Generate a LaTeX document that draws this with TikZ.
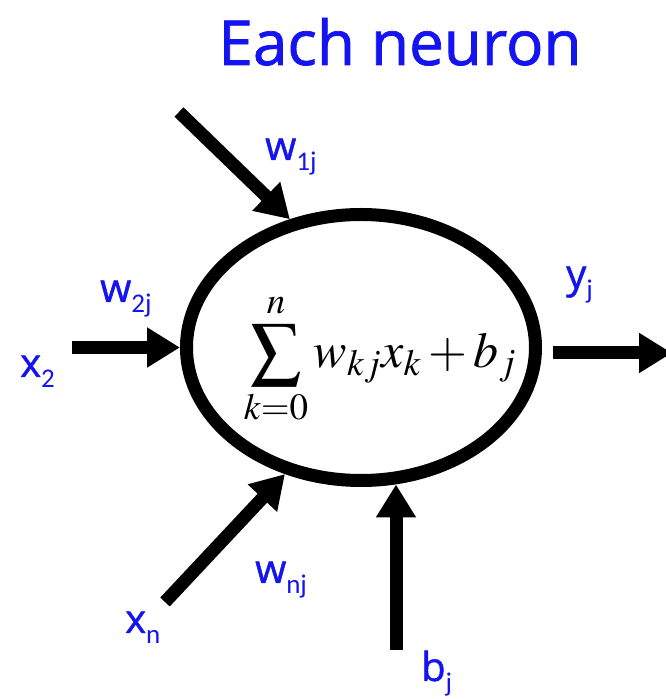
\documentclass[tikz,border=0pt]{standalone}
\usepackage{mathptmx}
\usepackage[no-math]{fontspec}
\usepackage{tikz}
\usetikzlibrary{arrows.meta,shapes.geometric,positioning}
\newfontfamily\labfont[FakeBold=1.2]{Open Sans}
\newfontfamily\subfont{Carlito}
\definecolor{ink}{HTML}{000000}
\definecolor{lblue}{HTML}{1414F0}
\newcommand{\nlab}[2]{{\fontsize{40}{44}\labfont #1}\raisebox{-11pt}{\fontsize{27}{30}\subfont #2}}
\tikzset{
  cell/.style={ellipse,draw=ink,line width=13pt,minimum width=349pt,minimum height=266pt,inner sep=0pt},
  wire/.style={ink,line width=13pt,-{Triangle[length=33pt,width=38pt]}},
  lbl/.style={lblue,inner sep=0pt,anchor=base west},
}

\begin{document}
\begin{tikzpicture}[x=1pt,y=1pt]
  \useasboundingbox (0,0) rectangle (666,699);
  % ---------- title ----------
  \node[lblue,inner sep=0pt,anchor=base] (title) at (400,634)
    {\fontsize{62}{70}\labfont Each neuron};
  % ---------- the neuron ----------
  \node[cell] (neuron) at (361,351.5) {};
  \node[inner sep=0pt] (sum) at (380,340)
    {\fontsize{50}{60}\selectfont $\displaystyle\sum_{k=0}^{n} w_{kj}x_{k}+b_{j}$};
  % ---------- inputs and output ----------
  \coordinate (in1) at (179,587);
  \coordinate (in2) at (72,351.5);
  \coordinate (inn) at (165,97);
  \coordinate (bin) at (396,49);
  \coordinate (yout) at (672,346);
  \draw[wire] (in1) -- (neuron.119);
  \draw[wire] (in2) -- (neuron.180);
  \draw[wire] (inn) -- (neuron.239);
  \draw[wire] (bin) -- (bin |- neuron.284);
  \draw[wire,shorten <=11pt] (neuron.east |- yout) -- (yout);
  % ---------- labels ----------
  \node[lbl] (w1) at (265,539) {\nlab{w}{1j}};
  \node[lbl] (w2) at (100,397) {\nlab{w}{2j}};
  \node[lbl] (x2) at (20,322) {\nlab{x}{2}};
  \node[lbl] (yj) at (566,411) {\nlab{y}{j}};
  \node[lbl] (wn) at (255,116) {\nlab{w}{nj}};
  \node[lbl] (xn) at (125,66) {\nlab{x}{n}};
  \node[lbl] (bj) at (421,18) {\nlab{b}{j}};
\end{tikzpicture}
\end{document}
